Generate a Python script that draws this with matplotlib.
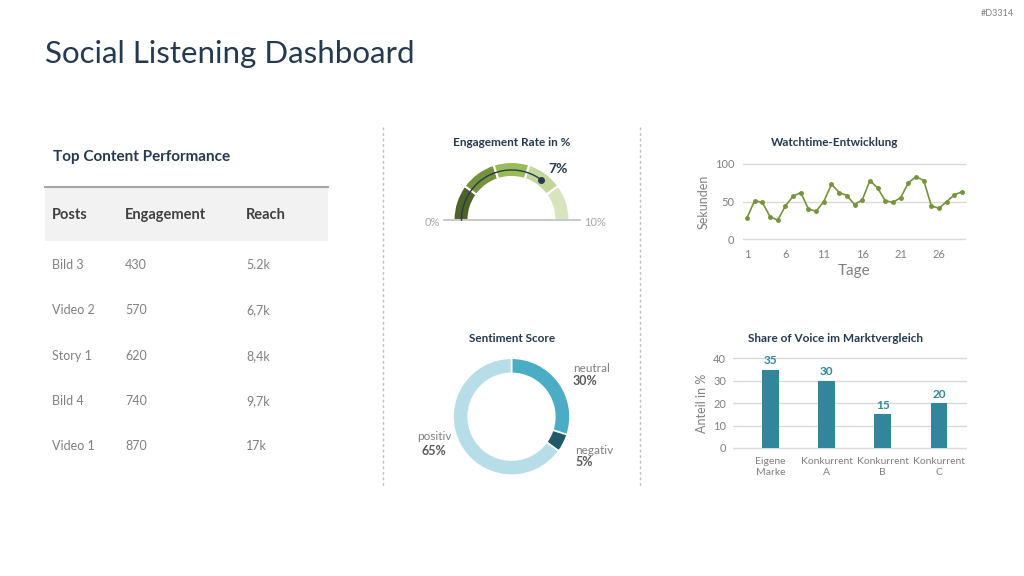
import numpy as np
import matplotlib
matplotlib.use("Agg")
import matplotlib.pyplot as plt
from matplotlib.patches import Wedge, Rectangle
from matplotlib.lines import Line2D

plt.rcParams["font.family"] = ["Lato", "DejaVu Sans"]

# ---------------- daten ----------------
tabelle_posts = ["Bild 3", "Video 2", "Story 1", "Bild 4", "Video 1"]
tabelle_engagement = ["430", "570", "620", "740", "870"]
tabelle_reach = ["5.2k", "6,7k", "8,4k", "9,7k", "17k"]

gauge_baender = [2, 2, 2, 2, 2]
gauge_wert = 7
gauge_max = 10

watch_tage = list(range(1, 30))
watch_sekunden = [28, 51, 49, 30, 25, 44, 57, 62, 40, 37, 50, 73, 62, 58, 46,
                  52, 78, 68, 51, 49, 55, 75, 83, 78, 44, 41, 50, 59, 63]

sentiment_labels = ["neutral", "negativ", "positiv"]
sentiment_werte = [30, 5, 65]

sov_marken = ["Eigene\nMarke", "Konkurrent\nA", "Konkurrent\nB", "Konkurrent\nC"]
sov_anteil = [35, 30, 15, 20]

# ---------------- farben ----------------
navy = "#263a4f"
grau_text = "#808080"
grau_dunkel = "#595959"
gitter = "#d9d9d9"
gauge_farben = ["#4f6228", "#76923c", "#9bbb59", "#c3d69b", "#d7e4bd"]
gruen = "#77933c"
sent_farben = ["#4bacc6", "#215968", "#b7dee8"]
teal = "#31869b"

W, H = 1024, 576
fig = plt.figure(figsize=(W / 100, H / 100), dpi=100)
fig.patch.set_facecolor("white")


def px(x, y):
    return x / W, 1 - y / H


def rect(l, t, r, b):
    return [l / W, 1 - b / H, (r - l) / W, (b - t) / H]


def ftext(x, y, s, **kw):
    fx, fy = px(x, y)
    fig.text(fx, fy, s, **kw)


# kopf
ftext(45, 54, "Social Listening Dashboard", fontsize=22.5, color=navy, va="center")
ftext(1014, 14, "#D3314", fontsize=6.5, color=grau_text, ha="right", va="center")

# trennlinien
for xs in [383, 640]:
    fig.add_artist(Line2D([xs / W, xs / W], [1 - 127 / H, 1 - 488 / H],
                          color="#bfbfbf", lw=1, ls=(0, (2, 2))))

# ---------------- tabelle ----------------
ftext(53, 157, "Top Content Performance", fontsize=11, fontweight="bold",
      color=navy, va="center")
fig.add_artist(Rectangle(px(45, 241), 283 / W, 54 / H, transform=fig.transFigure,
                         facecolor="#f2f2f2", edgecolor="none"))
fig.add_artist(Line2D([45 / W, 328 / W], [1 - 187 / H, 1 - 187 / H],
                      color="#a6a6a6", lw=1.5))
spalten_x = [52, 125, 246]
for xs, kopf in zip(spalten_x, ["Posts", "Engagement", "Reach"]):
    ftext(xs, 215, kopf, fontsize=10.5, fontweight="bold", color="#404040", va="center")
zeilen_y = [265, 310, 356, 401, 446]
for i, ys in enumerate(zeilen_y):
    for xs, spalte in zip(spalten_x, [tabelle_posts, tabelle_engagement, tabelle_reach]):
        ftext(xs, ys, spalte[i], fontsize=9, color=grau_text, va="center")

# ---------------- gauge ----------------
ftext(512, 143, "Engagement Rate in %", fontsize=8.5, fontweight="bold",
      color=navy, ha="center", va="center")
axg = fig.add_axes(rect(411.5, 150, 611.5, 230))
axg.set_xlim(-100, 100)
axg.set_ylim(-10, 70)
axg.axis("off")
r_aussen, breite = 58, 15
start = 0
for wert, farbe in zip(gauge_baender, gauge_farben):
    t1 = 180 - start / gauge_max * 180
    t2 = 180 - (start + wert) / gauge_max * 180
    axg.add_patch(Wedge((0, 0), r_aussen, t2, t1, width=breite,
                        facecolor=farbe, edgecolor="white", lw=1.5))
    start += wert
axg.plot([-68, 68], [0, 0], color="#bfbfbf", lw=1.2, clip_on=False)
winkel_ende = 180 - gauge_wert / gauge_max * 180
theta = np.linspace(np.radians(180), np.radians(winkel_ende), 80)
r_nadel = 50
axg.plot(r_nadel * np.cos(theta), r_nadel * np.sin(theta), color=navy, lw=1)
axg.plot(r_nadel * np.cos(theta[-1]), r_nadel * np.sin(theta[-1]), "o",
         color=navy, ms=4)
ftext(432, 222, "0%", fontsize=8, color="#a6a6a6", ha="center", va="center")
ftext(595, 222, "10%", fontsize=8, color="#a6a6a6", ha="center", va="center")
ftext(558, 169, f"{gauge_wert}%", fontsize=10, fontweight="bold", color=navy,
      ha="center", va="center")

# ---------------- sentiment donut ----------------
ftext(512, 338, "Sentiment Score", fontsize=8.5, fontweight="bold",
      color=navy, ha="center", va="center")
axd = fig.add_axes(rect(511.5 - 58.5, 416.7 - 58.5, 511.5 + 58.5, 416.7 + 58.5))
axd.pie(sentiment_werte, colors=sent_farben, startangle=90, counterclock=False,
        radius=1, wedgeprops={"width": 0.26, "edgecolor": "white", "linewidth": 1.2})
axd.set_xlim(-1, 1)
axd.set_ylim(-1, 1)
axd.set_aspect("equal")
ftext(573, 368, sentiment_labels[0], fontsize=8.5, color=grau_text, va="center")
ftext(573, 381, f"{sentiment_werte[0]}%", fontsize=9, fontweight="bold",
      color=grau_dunkel, va="center")
ftext(575, 450, sentiment_labels[1], fontsize=8.5, color=grau_text, va="center")
ftext(575, 462, f"{sentiment_werte[1]}%", fontsize=9, fontweight="bold",
      color=grau_dunkel, va="center")
ftext(417, 437, sentiment_labels[2], fontsize=8.5, color=grau_text, va="center")
ftext(422, 451, f"{sentiment_werte[2]}%", fontsize=9, fontweight="bold",
      color=grau_dunkel, va="center")

# ---------------- watchtime ----------------
ftext(835, 143, "Watchtime-Entwicklung", fontsize=8.5, fontweight="bold",
      color=navy, ha="center", va="center")
axw = fig.add_axes(rect(742.7, 162.5, 966, 240.5))
axw.plot(watch_tage, watch_sekunden, color=gruen, lw=1.2, marker="o", ms=2.5)
axw.set_xlim(0.45, 29.5)
axw.set_ylim(-2, 102)
axw.set_yticks([0, 50, 100])
axw.set_xticks([1, 6, 11, 16, 21, 26])
axw.yaxis.grid(True, color=gitter, lw=1)
axw.set_axisbelow(True)
for s in axw.spines.values():
    s.set_visible(False)
axw.tick_params(length=0, labelsize=8, labelcolor=grau_text, pad=6)
axw.set_ylabel("Sekunden", fontsize=9, color=grau_text, labelpad=4)
axw.set_xlabel("Tage", fontsize=11, color=grau_text, labelpad=3)

# ---------------- share of voice ----------------
ftext(835, 338, "Share of Voice im Marktvergleich", fontsize=8.5, fontweight="bold",
      color=navy, ha="center", va="center")
axb = fig.add_axes(rect(733, 356.1, 967, 450.2))
xpos = np.arange(len(sov_marken))
balken = axb.bar(xpos, sov_anteil, width=0.3, color=teal, zorder=3)
for b, v in zip(balken, sov_anteil):
    axb.text(b.get_x() + b.get_width() / 2, v + 1.5, str(v), ha="center", va="bottom",
             fontsize=8.5, fontweight="bold", color=teal)
axb.set_xlim(-0.67, 3.5)
axb.set_ylim(-1, 41)
axb.set_yticks([0, 10, 20, 30, 40])
axb.set_xticks(xpos)
axb.set_xticklabels(sov_marken, linespacing=1.3)
axb.yaxis.grid(True, color=gitter, lw=1)
axb.set_axisbelow(True)
for s in axb.spines.values():
    s.set_visible(False)
axb.tick_params(axis="y", length=0, labelsize=8, labelcolor=grau_text, pad=5)
axb.tick_params(axis="x", length=0, labelsize=7.5, labelcolor=grau_text, pad=5)
axb.set_ylabel("Anteil in %", fontsize=9, color=grau_text, labelpad=4)

fig.savefig("out.png", dpi=100)
